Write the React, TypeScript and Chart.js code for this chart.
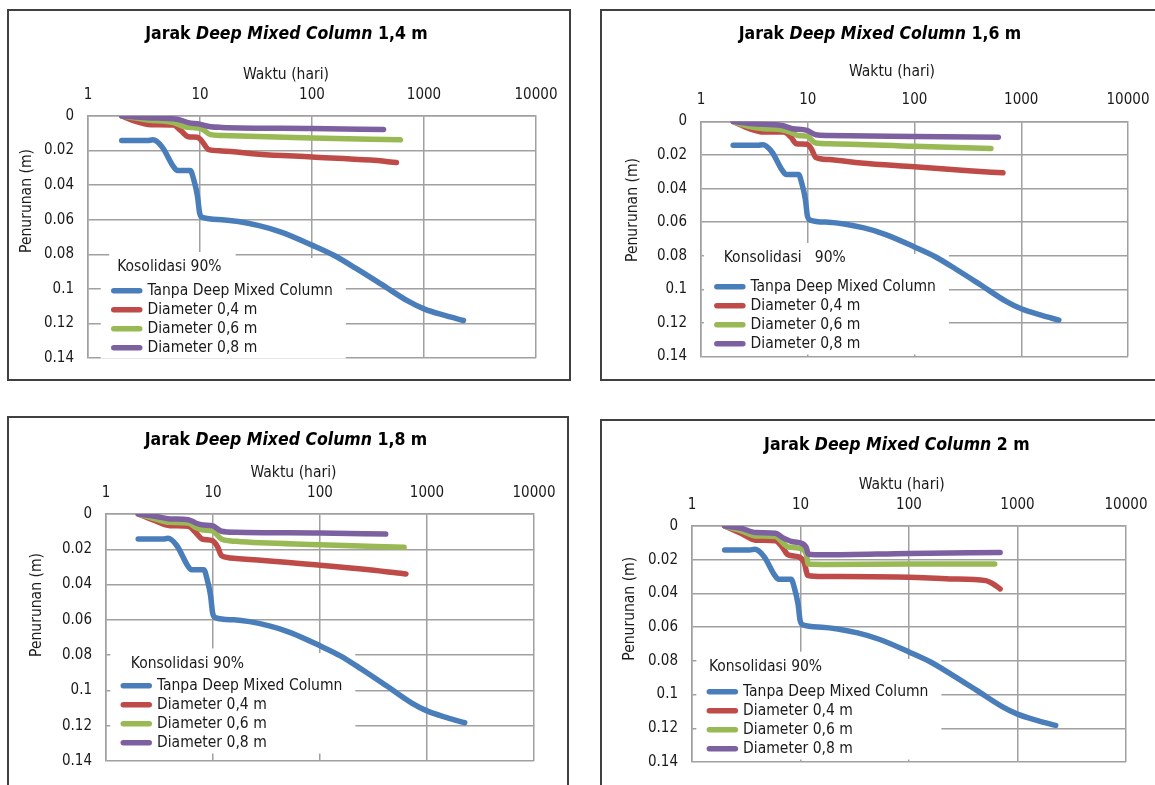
import React, { useEffect, useRef } from 'react';
import { Chart, registerables } from 'chart.js';

Chart.register(...registerables);

const FONT = '"DejaVu Sans Condensed", "DejaVu Sans", Verdana, sans-serif';
const TEXT_COLOR = '#1a1a1a';
const GRID_COLOR = '#a0a0a0';

// ---- axis / text data ----
const X_TICKS = [1, 10, 100, 1000, 10000];
const Y_TICKS = [0, 0.02, 0.04, 0.06, 0.08, 0.1, 0.12, 0.14];
const X_TITLE = 'Waktu (hari)';
const Y_TITLE = 'Penurunan (m)';
const TITLE_PREFIX = 'Jarak ';
const TITLE_ITALIC = 'Deep Mixed Column';
const DISTANCES = ['1,4 m', '1,6 m', '1,8 m', '2 m'];
const LEGEND_TITLES = ['Kosolidasi 90%', 'Konsolidasi   90%', 'Konsolidasi 90%', 'Konsolidasi 90%'];
const SERIES_LABELS = ['Tanpa Deep Mixed Column', 'Diameter 0,4 m', 'Diameter 0,6 m', 'Diameter 0,8 m'];
const SERIES_COLORS = ['#4A7EBB', '#BE4B48', '#98B954', '#7D60A0'];

// ---- series data: time (hari) and settlement (m) ----
const T_TANPA = [2, 3.4, 3.8, 4.6, 5.8, 6.3, 8.2, 8.8, 9.5, 9.9, 10.5, 15.7, 33.6, 53, 100, 155, 245, 418, 715, 1000, 1535, 2250];
const S_TANPA = [0.0142, 0.0142, 0.0138, 0.018, 0.0293, 0.0316, 0.0316, 0.0369, 0.0464, 0.0558, 0.0587, 0.06, 0.0634, 0.0672, 0.0747, 0.0804, 0.088, 0.0974, 0.107, 0.1116, 0.1154, 0.1183];

// Jarak 1,4 m
const T_14_D04 = [2, 2.5, 3.66, 5.8, 6.75, 7.85, 9.5, 10.3, 12, 15.7, 33.7, 100, 333, 568];
const S_14_D04 = [0, 0.0025, 0.005, 0.0052, 0.0085, 0.012, 0.0123, 0.0142, 0.0195, 0.0202, 0.0221, 0.0237, 0.0255, 0.0269];
const T_14_D06 = [2, 3.4, 5.8, 7.3, 9.5, 10.5, 12.4, 15.7, 100, 614];
const S_14_D06 = [0, 0.0023, 0.0038, 0.0062, 0.007, 0.0076, 0.0108, 0.0113, 0.0127, 0.0138];
const T_14_D08 = [2, 3.4, 6.26, 7.85, 9.9, 12.4, 15.7, 100, 435];
const S_14_D08 = [0, 0.001, 0.0019, 0.0038, 0.0047, 0.0062, 0.0066, 0.0072, 0.0078];

// Jarak 1,6 m
const T_16_D04 = [2, 2.85, 3.88, 5.95, 6.95, 7.8, 9.8, 10.8, 11.9, 15.7, 31.5, 100, 322, 673];
const S_16_D04 = [0, 0.0043, 0.0063, 0.0063, 0.0093, 0.0132, 0.0136, 0.0162, 0.0215, 0.0227, 0.0247, 0.027, 0.0294, 0.0306];
const T_16_D06 = [2, 2.85, 3.88, 5.7, 7.2, 8.1, 9.8, 11.9, 15.7, 100, 520];
const S_16_D06 = [0, 0.003, 0.0043, 0.005, 0.0069, 0.0083, 0.0087, 0.0128, 0.0132, 0.0148, 0.0161];
const T_16_D08 = [2, 3.1, 5.7, 7.2, 9.8, 11.9, 15.7, 100, 610];
const S_16_D08 = [0, 0.0014, 0.0024, 0.0043, 0.0053, 0.0079, 0.0083, 0.0089, 0.0094];

// Jarak 1,8 m
const T_18_D04 = [2, 2.88, 3.95, 5.87, 6.88, 7.95, 9.85, 11.1, 12, 16.5, 100, 288, 636];
const S_18_D04 = [0, 0.0038, 0.0066, 0.007, 0.0104, 0.0142, 0.0151, 0.0189, 0.0236, 0.0252, 0.029, 0.0316, 0.034];
const T_18_D06 = [2, 2.88, 3.95, 5.87, 6.88, 8.1, 9.85, 12, 16.5, 100, 611];
const S_18_D06 = [0, 0.0028, 0.0047, 0.0051, 0.0076, 0.0091, 0.0095, 0.0142, 0.0155, 0.0174, 0.0189];
const T_18_D08 = [2, 2.88, 3.95, 5.87, 6.88, 8.1, 9.85, 12, 16.5, 100, 411];
const S_18_D08 = [0, 0.0013, 0.0028, 0.0032, 0.0051, 0.0062, 0.0066, 0.0098, 0.0104, 0.0108, 0.0114];

// Jarak 2 m
const T_20_D04 = [2, 2.85, 3.86, 5.87, 6.84, 7.67, 9.6, 10.8, 11.7, 16.4, 100, 238, 511, 594, 692];
const S_20_D04 = [0, 0.0045, 0.0084, 0.0088, 0.0128, 0.0171, 0.0183, 0.0216, 0.0294, 0.03, 0.0304, 0.0314, 0.0324, 0.0343, 0.0373];
const T_20_D06 = [2, 2.85, 3.86, 5.87, 6.84, 7.67, 9.6, 11.3, 11.8, 16.4, 100, 617];
const S_20_D06 = [0, 0.0029, 0.0059, 0.0063, 0.0098, 0.0124, 0.0131, 0.0167, 0.0226, 0.0228, 0.0226, 0.0226];
const T_20_D08 = [2, 2.85, 3.86, 5.87, 6.84, 8.3, 9.6, 11.3, 11.8, 16.4, 100, 692];
const S_20_D08 = [0, 0.0014, 0.0039, 0.0043, 0.0069, 0.0092, 0.0098, 0.0128, 0.0167, 0.0171, 0.0163, 0.0157];

// ---- layout (page coordinates) ----
const LEG_FONT = 15.5;
const ROW_H = 19;
const LEG_PAD = ROW_H - LEG_FONT;
const LEG_LINE = 26;
const LINE_W = 5.5;
const TICK_SIZE = 15;
const AXIS_TITLE_SIZE = 15.5;
const TITLE_SIZE = 17.5;

type Box = { x: number; y: number; w: number; h: number };
type Plot = { l: number; t: number; r: number; b: number };
type Panel = {
  dist: string;
  legendTitle: string;
  series: number[][][];
  box: Box;
  plot: Plot;
  title: number[];
  xTitle: number[];
  yTitle: number[];
  lg: { textX: number; row0: number; titleCx: number; titleCy: number };
};

const PANELS: Panel[] = [
  {
    dist: DISTANCES[0], legendTitle: LEGEND_TITLES[0],
    series: [[T_TANPA, S_TANPA], [T_14_D04, S_14_D04], [T_14_D06, S_14_D06], [T_14_D08, S_14_D08]],
    box: { x: 7, y: 9, w: 564, h: 372 }, plot: { l: 88, t: 116, r: 536, b: 363 },
    title: [286.5, 34], xTitle: [286, 75], yTitle: [26.5, 201],
    lg: { textX: 147.5, row0: 291, titleCx: 169.4, titleCy: 267 },
  },
  {
    dist: DISTANCES[1], legendTitle: LEGEND_TITLES[1],
    series: [[T_TANPA, S_TANPA], [T_16_D04, S_16_D04], [T_16_D06, S_16_D06], [T_16_D08, S_16_D08]],
    box: { x: 600, y: 9, w: 580, h: 372 }, plot: { l: 701, t: 121.5, r: 1128, b: 356.5 },
    title: [880, 34.3], xTitle: [892, 72.3], yTitle: [632.8, 210],
    lg: { textX: 750.6, row0: 287, titleCx: 784.8, titleCy: 258 },
  },
  {
    dist: DISTANCES[2], legendTitle: LEGEND_TITLES[2],
    series: [[T_TANPA, S_TANPA], [T_18_D04, S_18_D04], [T_18_D06, S_18_D06], [T_18_D08, S_18_D08]],
    box: { x: 7, y: 416, w: 562, h: 400 }, plot: { l: 106, t: 514, r: 534, b: 761 },
    title: [286, 440], xTitle: [293.5, 473], yTitle: [37, 605],
    lg: { textX: 157, row0: 686, titleCx: 187.4, titleCy: 663.5 },
  },
  {
    dist: DISTANCES[3], legendTitle: LEGEND_TITLES[3],
    series: [[T_TANPA, S_TANPA], [T_20_D04, S_20_D04], [T_20_D06, S_20_D06], [T_20_D08, S_20_D08]],
    box: { x: 600, y: 419, w: 580, h: 400 }, plot: { l: 692, t: 526, r: 1126, b: 762 },
    title: [896.8, 445], xTitle: [901.7, 484.6], yTitle: [629.5, 608.8],
    lg: { textX: 743.1, row0: 692, titleCx: 765.5, titleCy: 666.7 },
  },
];

function legendGeometry(p: Panel) {
  const ox = p.box.x;
  const oy = p.box.y;
  const B = Math.round(p.lg.row0 - oy - LEG_FONT / 2 + 4 * ROW_H);
  const pathX = p.lg.textX - LEG_LINE - LEG_FONT / 2;
  const L = pathX - ox - LEG_PAD;
  return { B, L };
}

function decorPlugin(p: Panel) {
  const ox = p.box.x;
  const oy = p.box.y;
  const { B, L } = legendGeometry(p);
  return {
    id: 'panelDecor',
    afterLayout(chart: any) {
      const lg = chart.legend;
      if (!lg) return;
      lg.left = L;
      lg.top = chart.chartArea.top;
      lg.bottom = B;
      lg.right = L + 340;
      lg.width = 2 * (p.lg.titleCx - ox - L);
      lg.height = B - lg.top;
    },
    beforeDatasetsDraw(chart: any) {
      const lg = chart.legend;
      const ctx = chart.ctx;
      const hb = lg && lg.legendHitBoxes;
      if (!hb || !hb.length) return;
      const left = hb[0].left - 13;
      const right = Math.max(...hb.map((h: any) => h.left + h.width)) + 13;
      const top = hb[0].top - 25;
      const last = hb[hb.length - 1];
      const bottom = last.top + last.height + 3;
      ctx.save();
      ctx.fillStyle = '#ffffff';
      ctx.fillRect(left, top, right - left, bottom - top);
      ctx.font = `${LEG_FONT}px ${FONT}`;
      const tw = ctx.measureText(p.legendTitle).width;
      const tcx = p.lg.titleCx - ox;
      const tcy = p.lg.titleCy - oy;
      ctx.fillRect(tcx - tw / 2 - 8, tcy - 15, tw + 22, 30);
      ctx.restore();
      lg.draw(chart.chartArea);
    },
    afterDraw(chart: any) {
      const ctx = chart.ctx;
      ctx.save();
      ctx.textBaseline = 'middle';
      ctx.textAlign = 'left';
      ctx.fillStyle = '#000000';
      const fN = `bold ${TITLE_SIZE}px ${FONT}`;
      const fI = `italic bold ${TITLE_SIZE}px ${FONT}`;
      const segs: [string, string][] = [[TITLE_PREFIX, fN], [TITLE_ITALIC, fI], [' ' + p.dist, fN]];
      let total = 0;
      const widths = segs.map(([t, f]) => {
        ctx.font = f;
        const w = ctx.measureText(t).width;
        total += w;
        return w;
      });
      let x = p.title[0] - ox - total / 2;
      const y = p.title[1] - oy;
      segs.forEach(([t, f], i) => {
        ctx.font = f;
        ctx.fillText(t, x, y);
        x += widths[i];
      });
      ctx.font = `${AXIS_TITLE_SIZE}px ${FONT}`;
      ctx.fillStyle = TEXT_COLOR;
      ctx.textAlign = 'center';
      ctx.fillText(X_TITLE, p.xTitle[0] - ox, p.xTitle[1] - oy);
      ctx.translate(p.yTitle[0] - ox, p.yTitle[1] - oy);
      ctx.rotate(-Math.PI / 2);
      ctx.fillText(Y_TITLE, 0, 0);
      ctx.restore();
    },
  };
}

function PanelChart({ p }: { p: Panel }) {
  const ref = useRef<HTMLCanvasElement>(null);
  useEffect(() => {
    const canvas = ref.current;
    if (!canvas) return;
    const ox = p.box.x;
    const oy = p.box.y;
    const W = p.box.w;
    const H = p.box.h;
    const plotL = p.plot.l - ox;
    const plotT = p.plot.t - oy;
    const plotR = p.plot.r - ox;
    const plotB = p.plot.b - oy;
    const { B } = legendGeometry(p);
    const rowTop0 = B - 4 * ROW_H;
    const titleLH = LEG_FONT * 1.2;
    const padBottom = Math.max(0, rowTop0 - LEG_PAD - titleLH + LEG_FONT / 2 - (p.lg.titleCy - oy));

    const grid = { color: GRID_COLOR, lineWidth: 1.5, drawTicks: false };
    const border = { display: true, color: GRID_COLOR, width: 1.5 };
    const tickFont = { family: FONT, size: TICK_SIZE };

    const chart = new Chart(canvas, {
      type: 'line',
      data: {
        datasets: p.series.map(([t, s], i) => ({
          label: SERIES_LABELS[i],
          data: t.map((tv, j) => ({ x: tv, y: s[j] })),
          borderColor: SERIES_COLORS[i],
          backgroundColor: SERIES_COLORS[i],
          borderWidth: LINE_W,
          borderCapStyle: 'round',
          borderJoinStyle: 'round',
          pointRadius: 0,
          pointHoverRadius: 0,
          cubicInterpolationMode: 'monotone',
          fill: false,
          order: 3 - i,
        })),
      },
      options: {
        responsive: false,
        animation: false,
        events: [],
        layout: { padding: { left: 0, top: 0, right: W - plotR, bottom: H - plotB } },
        scales: {
          x: {
            type: 'logarithmic',
            position: 'top',
            min: 1,
            max: 10000,
            afterBuildTicks: (s: any) => { s.ticks = X_TICKS.map((v) => ({ value: v })); },
            afterFit: (s: any) => { s.height = plotT; },
            grid,
            border,
            ticks: {
              font: tickFont, color: TEXT_COLOR, padding: 12, maxRotation: 0, autoSkip: false,
              callback: (v: any) => String(v),
            },
            title: { display: false },
          },
          y: {
            type: 'linear',
            reverse: true,
            min: 0,
            max: 0.14,
            afterBuildTicks: (s: any) => { s.ticks = Y_TICKS.map((v) => ({ value: v })); },
            afterFit: (s: any) => { s.width = plotL; },
            grid,
            border,
            ticks: {
              font: tickFont, color: TEXT_COLOR, padding: 14, autoSkip: false,
              callback: (v: any) => String(Math.round(Number(v) * 100) / 100),
            },
            title: { display: false },
          },
        },
        plugins: {
          title: { display: false },
          tooltip: { enabled: false },
          legend: {
            display: true,
            position: 'chartArea',
            align: 'end',
            title: {
              display: true,
              text: p.legendTitle,
              position: 'center',
              color: TEXT_COLOR,
              font: { family: FONT, size: LEG_FONT },
              padding: { top: 0, bottom: padBottom },
            },
            labels: {
              usePointStyle: true,
              pointStyle: 'line',
              pointStyleWidth: LEG_LINE,
              boxHeight: LEG_FONT,
              padding: LEG_PAD,
              color: TEXT_COLOR,
              font: { family: FONT, size: LEG_FONT },
              sort: (a: any, b: any) => a.datasetIndex - b.datasetIndex,
              generateLabels: (c: any) =>
                (Chart as any).defaults.plugins.legend.labels.generateLabels(c).map((it: any) => ({
                  ...it,
                  lineWidth: LINE_W,
                  lineCap: 'round',
                  pointStyle: 'line',
                  strokeStyle: SERIES_COLORS[it.datasetIndex],
                  fillStyle: SERIES_COLORS[it.datasetIndex],
                })),
            },
          },
        },
      } as any,
      plugins: [decorPlugin(p)],
    });
    return () => chart.destroy();
  }, [p]);
  return (
    <canvas
      ref={ref}
      width={p.box.w}
      height={p.box.h}
      style={{ position: 'absolute', left: p.box.x, top: p.box.y, width: p.box.w, height: p.box.h }}
    />
  );
}

export default function App() {
  return (
    <div
      style={{
        position: 'absolute', left: 0, top: 0, width: 1155, height: 785,
        overflow: 'hidden', background: '#ffffff',
      }}
    >
      {PANELS.map((p, i) => (
        <React.Fragment key={i}>
          <PanelChart p={p} />
          <div
            style={{
              position: 'absolute', left: p.box.x, top: p.box.y, width: p.box.w, height: p.box.h,
              border: '2px solid #404040', boxSizing: 'border-box', pointerEvents: 'none',
            }}
          />
        </React.Fragment>
      ))}
    </div>
  );
}
